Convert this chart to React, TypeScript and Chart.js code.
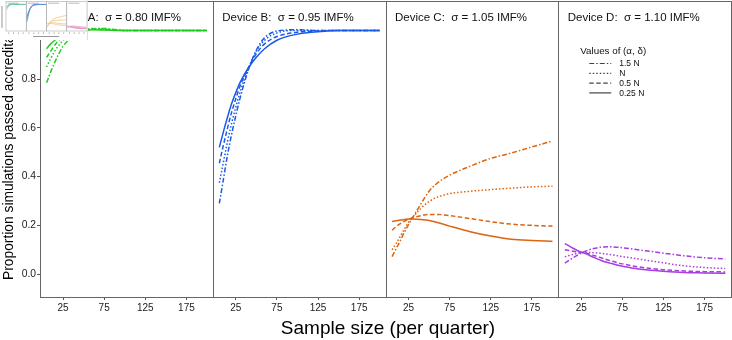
import React, { useEffect, useRef } from "react";
import { Chart, registerables } from "chart.js";

Chart.register(...registerables);

// ---------------- data ----------------
const sampleSizes = [5, 10, 15, 20, 25, 30, 40, 50, 60, 75, 100, 125, 150, 175, 200];
const seriesLabels = ["1.5 N", "N", "0.5 N", "0.25 N"];
const xTickValues = [25, 75, 125, 175];
const yTickValues = [0, 0.2, 0.4, 0.6, 0.8, 1.0];
const panelTitles = [
  "Device A:  σ = 0.80 IMF%",
  "Device B:  σ = 0.95 IMF%",
  "Device C:  σ = 1.05 IMF%",
  "Device D:  σ = 1.10 IMF%",
];
const legendTitle = "Values of (α, δ)";
const xTitle = "Sample size (per quarter)";
const yTitle = "Proportion simulations passed accreditation";

// Device A
const devA_15N = [0.785, 0.83, 0.87, 0.905, 0.935, 0.955, 0.98, 0.995, 1.005, 1.008, 1.0, 1.0, 1.0, 1.0, 1.0];
const devA_N = [0.85, 0.885, 0.915, 0.94, 0.96, 0.975, 0.99, 0.998, 1.008, 1.006, 1.0, 1.0, 1.0, 1.0, 1.0];
const devA_05N = [0.89, 0.915, 0.94, 0.96, 0.975, 0.985, 0.995, 1.0, 1.006, 1.004, 1.0, 1.0, 1.0, 1.0, 1.0];
const devA_025N = [0.925, 0.945, 0.96, 0.972, 0.982, 0.99, 0.997, 1.0, 1.003, 1.002, 1.0, 1.0, 1.0, 1.0, 1.0];

// Device B
const devB_15N = [0.29, 0.39, 0.49, 0.575, 0.65, 0.72, 0.835, 0.92, 0.97, 0.998, 1.003, 1.0, 1.0, 1.0, 1.0];
const devB_N = [0.375, 0.46, 0.545, 0.62, 0.685, 0.745, 0.84, 0.915, 0.96, 0.99, 1.0, 1.0, 1.0, 1.0, 1.0];
const devB_05N = [0.455, 0.53, 0.6, 0.665, 0.72, 0.77, 0.845, 0.905, 0.945, 0.975, 0.993, 0.998, 1.0, 1.0, 1.0];
const devB_025N = [0.52, 0.585, 0.645, 0.7, 0.745, 0.785, 0.845, 0.89, 0.925, 0.96, 0.985, 0.995, 1.0, 1.0, 1.0];

// Device C
const devC_15N = [0.072, 0.105, 0.137, 0.172, 0.203, 0.232, 0.288, 0.34, 0.374, 0.406, 0.443, 0.475, 0.497, 0.522, 0.546];
const devC_N = [0.1, 0.125, 0.155, 0.185, 0.212, 0.232, 0.27, 0.298, 0.316, 0.33, 0.34, 0.347, 0.353, 0.358, 0.361];
const devC_05N = [0.18, 0.195, 0.207, 0.217, 0.225, 0.231, 0.24, 0.245, 0.245, 0.24, 0.228, 0.215, 0.205, 0.2, 0.197];
const devC_025N = [0.216, 0.219, 0.222, 0.224, 0.226, 0.226, 0.224, 0.22, 0.212, 0.197, 0.174, 0.156, 0.143, 0.138, 0.135];

// Device D
const devD_15N = [0.045, 0.056, 0.067, 0.077, 0.086, 0.094, 0.105, 0.111, 0.112, 0.108, 0.097, 0.086, 0.075, 0.067, 0.062];
const devD_N = [0.071, 0.076, 0.081, 0.085, 0.088, 0.089, 0.088, 0.085, 0.08, 0.072, 0.059, 0.046, 0.034, 0.027, 0.023];
const devD_05N = [0.1, 0.097, 0.094, 0.091, 0.089, 0.087, 0.077, 0.066, 0.055, 0.042, 0.027, 0.018, 0.013, 0.01, 0.009];
const devD_025N = [0.125, 0.116, 0.106, 0.097, 0.09, 0.084, 0.069, 0.055, 0.045, 0.032, 0.019, 0.012, 0.007, 0.005, 0.003];

// ---------------- styles ----------------
const FONT = "'Liberation Sans', Arial, Helvetica, sans-serif";
const X_MIN = -3;
const X_MAX = 207;
const Y_MIN = -0.094;
const Y_MAX = 1.121;
const dashPatterns = [[5, 2, 1.5, 2], [1.5, 2], [4.5, 2.5], []];
const devices = [
  { axis: "xA", color: "#1fcc1f", mini: "#6cc4a4", series: [devA_15N, devA_N, devA_05N, devA_025N] },
  { axis: "xB", color: "#1a5ae8", mini: "#5a90d8", series: [devB_15N, devB_N, devB_05N, devB_025N] },
  { axis: "xC", color: "#dd6410", mini: "#f3bb72", series: [devC_15N, devC_N, devC_05N, devC_025N] },
  { axis: "xD", color: "#a83de0", mini: "#e48cc4", series: [devD_15N, devD_N, devD_05N, devD_025N] },
];

const makeX = () => ({
  type: "linear",
  position: "bottom",
  stack: "panels",
  stackWeight: 1,
  min: X_MIN,
  max: X_MAX,
  afterBuildTicks: (s: any) => {
    s.ticks = xTickValues.map((v) => ({ value: v }));
  },
  afterFit: (s: any) => {
    s.height = 43;
    s.paddingLeft = 0;
    s.paddingRight = 0;
    s.paddingTop = 0;
    s.paddingBottom = 0;
  },
  ticks: {
    autoSkip: false,
    maxRotation: 0,
    padding: 2,
    color: "#222",
    font: { family: FONT, size: 10 },
    callback: (v: any) => String(v),
  },
  grid: { display: true, drawOnChartArea: false, drawTicks: true, tickLength: 3, color: "#555" },
  border: { display: true, color: "#555", width: 1 },
});

const panelsPlugin = {
  id: "panels",
  beforeDatasetsDraw(chart: any) {
    const { ctx, chartArea } = chart;
    ctx.save();
    ctx.strokeStyle = "#666";
    ctx.lineWidth = 1;
    devices.forEach((d) => {
      const s = chart.scales[d.axis];
      ctx.strokeRect(Math.round(s.left) + 0.5, Math.round(chartArea.top) + 0.5, Math.round(s.right) - Math.round(s.left), Math.round(chartArea.bottom) - Math.round(chartArea.top));
    });
    ctx.restore();
  },
  afterDraw(chart: any) {
    const { ctx } = chart;
    ctx.save();
    // panel titles
    ctx.fillStyle = "#111";
    ctx.font = `11.5px ${FONT}`;
    ctx.textBaseline = "alphabetic";
    ctx.textAlign = "left";
    devices.forEach((d, i) => {
      const s = chart.scales[d.axis];
      ctx.fillText(panelTitles[i], s.left + 9.5, 21);
    });
    // legend in panel D
    const sD = chart.scales["xD"];
    const lx = sD.left + 22;
    ctx.font = `9.8px ${FONT}`;
    ctx.fillText(legendTitle, lx, 53.5);
    ctx.font = `8.5px ${FONT}`;
    seriesLabels.forEach((lab, i) => {
      const cy = 63.5 + i * 9.8;
      ctx.strokeStyle = "#444";
      ctx.lineWidth = 1.2;
      ctx.setLineDash(dashPatterns[i]);
      ctx.beginPath();
      ctx.moveTo(lx + 9, cy);
      ctx.lineTo(lx + 31, cy);
      ctx.stroke();
      ctx.setLineDash([]);
      ctx.fillStyle = "#111";
      ctx.textBaseline = "middle";
      ctx.fillText(lab, lx + 39, cy + 0.5);
    });
    // axis titles
    ctx.fillStyle = "#000";
    ctx.textBaseline = "alphabetic";
    ctx.textAlign = "center";
    ctx.font = `19px ${FONT}`;
    ctx.fillText(xTitle, 388, 334);
    ctx.save();
    ctx.translate(12.5, 280);
    ctx.rotate(-Math.PI / 2);
    ctx.textAlign = "left";
    ctx.font = `13.8px ${FONT}`;
    ctx.fillText(yTitle, 0, 0);
    ctx.restore();

    // inset thumbnail (top-left)
    const iw = 88;
    const ih = 40;
    ctx.fillStyle = "#fff";
    ctx.fillRect(0, 0, iw, ih);
    const pl = 6;
    const pr = 87;
    const pt = 1.5;
    const pb = 31;
    const pw = (pr - pl) / 4;
    devices.forEach((d, i) => {
      const x0 = pl + i * pw;
      ctx.strokeStyle = "#aaa";
      ctx.lineWidth = 0.6;
      ctx.setLineDash([]);
      ctx.strokeRect(x0, pt, pw, pb - pt);
      ctx.fillStyle = "#bbb";
      ctx.fillRect(x0 + 1.5, pt + 1.2, pw * 0.55, 1);
      const mx = (v: number) => x0 + ((v - X_MIN) / (X_MAX - X_MIN)) * pw;
      const my = (v: number) => pb - ((v - Y_MIN) / (Y_MAX - Y_MIN)) * (pb - pt);
      ctx.strokeStyle = d.mini;
      ctx.lineWidth = 0.7;
      d.series.forEach((arr) => {
        ctx.beginPath();
        arr.forEach((v, k) => {
          const X = mx(sampleSizes[k]);
          const Y = my(v);
          if (k === 0) ctx.moveTo(X, Y);
          else ctx.lineTo(X, Y);
        });
        ctx.stroke();
      });
      xTickValues.forEach((t) => {
        ctx.fillStyle = "#999";
        ctx.fillRect(mx(t) - 0.5, pb + 1.5, 1, 1.2);
      });
    });
    ctx.fillStyle = "#999";
    ctx.fillRect(1.5, 6, 1, 22);
    ctx.fillRect(33, 36, 26, 1);
    ctx.strokeStyle = "#ddd";
    ctx.lineWidth = 1;
    ctx.beginPath();
    ctx.moveTo(iw - 0.5, 0);
    ctx.lineTo(iw - 0.5, ih);
    ctx.stroke();
    ctx.restore();
  },
};

export default function App() {
  const ref = useRef<HTMLCanvasElement | null>(null);
  useEffect(() => {
    if (!ref.current) return;
    const datasets: any[] = [];
    devices.forEach((d) => {
      d.series.forEach((arr, si) => {
        datasets.push({
          label: `${d.axis} ${seriesLabels[si]}`,
          data: sampleSizes.map((x, k) => ({ x, y: arr[k] })),
          xAxisID: d.axis,
          yAxisID: "y",
          borderColor: d.color,
          borderWidth: 1.5,
          borderDash: dashPatterns[si],
          pointRadius: 0,
          fill: false,
          cubicInterpolationMode: "monotone",
        });
      });
    });
    const chart = new Chart(ref.current, {
      type: "line",
      data: { datasets },
      options: {
        responsive: false,
        animation: false,
        events: [],
        layout: { padding: { top: 1, right: 1, left: 0, bottom: 0 } },
        plugins: { legend: { display: false }, tooltip: { enabled: false } },
        scales: {
          y: {
            type: "linear",
            position: "left",
            min: Y_MIN,
            max: Y_MAX,
            afterBuildTicks: (s: any) => {
              s.ticks = yTickValues.map((v) => ({ value: v }));
            },
            afterFit: (s: any) => {
              s.width = 40;
              s.paddingTop = 0;
              s.paddingBottom = 0;
              s.paddingLeft = 0;
              s.paddingRight = 0;
            },
            ticks: {
              padding: 1,
              color: "#222",
              font: { family: FONT, size: 10.3 },
              callback: (v: any) => Number(v).toFixed(1),
            },
            grid: { display: true, drawOnChartArea: false, drawTicks: true, tickLength: 3, color: "#555" },
            border: { display: true, color: "#555", width: 1 },
          },
          xA: makeX(),
          xB: makeX(),
          xC: makeX(),
          xD: makeX(),
        } as any,
      },
      plugins: [panelsPlugin],
    } as any);
    return () => chart.destroy();
  }, []);
  return (
    <div style={{ position: "absolute", left: 0, top: 0, width: 732, height: 340, background: "#fff" }}>
      <canvas ref={ref} width={732} height={340} style={{ display: "block" }} />
    </div>
  );
}
